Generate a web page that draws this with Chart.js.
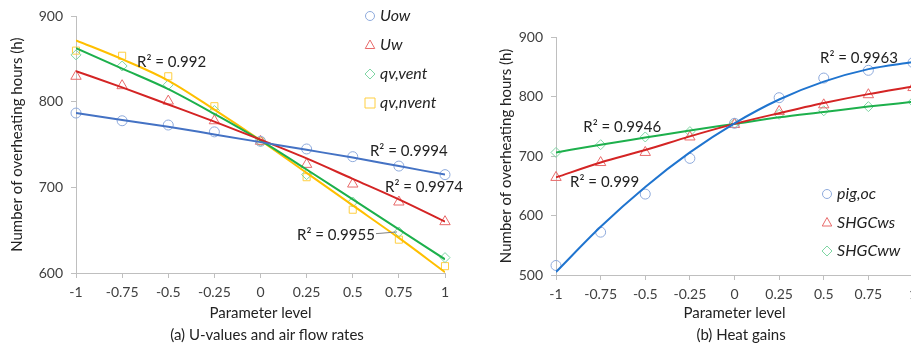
<!DOCTYPE html>
<html lang="en">
<head>
  <meta charset="UTF-8" />
  <title>Overheating hours</title>
  <script src="https://cdn.jsdelivr.net/npm/chart.js"></script>
  <style>
    body { margin: 0; width: 911px; height: 344px; overflow: hidden; background: #fff; position: relative; font-family: Lato, sans-serif; }
    .box { position: absolute; top: 0; }
    .caption { position: absolute; top: 325px; line-height: 18px; font: 15px Lato, sans-serif; color: #222; white-space: nowrap; transform: translateX(-50%); }
  </style>
</head>
<body>
  <div class="box" style="left:0;width:480px;height:344px"><canvas id="chartA" width="480" height="344"></canvas></div>
  <div class="box" style="left:490px;width:440px;height:344px"><canvas id="chartB" width="440" height="344"></canvas></div>
  <div class="caption" style="left:267px">(a) U-values and air flow rates</div>
  <div class="caption" style="left:741px">(b) Heat gains</div>

  <script>
    // niveles de parametro (eje x)
    const niveles = [-1, -0.75, -0.5, -0.25, 0, 0.25, 0.5, 0.75, 1];

    // (a) valores U y caudales de aire
    const uow = [787, 778, 773, 765, 754, 745, 736, 725, 715];
    const uw = [830, 819, 801, 778, 754, 727, 704, 683, 660];
    const qvVent = [855, 842, 820, 790, 754, 715, 683, 648, 618];
    const qvNvent = [860, 854, 830, 795, 754, 712, 674, 639, 608];
    // lineas de tendencia
    const uowTend = [787, 779, 771, 762, 753, 744, 735, 725, 715];
    const uwTend = [836, 817, 797, 777, 756, 734, 710, 686, 660];
    const qvVentTend = [863, 839, 815, 786, 755, 721, 686, 651, 616];
    const qvNventTend = [872, 850, 825, 791, 755, 717, 679, 641, 601];

    // (b) ganancias de calor
    const pigOc = [516, 572, 636, 696, 755, 798, 831, 844, 857];
    const shgcWs = [664, 689, 706, 732, 753, 775, 786, 803, 815];
    const shgcWw = [706, 719, 732, 741, 755, 770, 776, 783, 791];
    const pigOcTend = [505, 581, 648, 706, 755, 795, 825, 846, 858];
    const shgcWsTend = [664, 689, 710, 733, 754, 772, 789, 804, 817];
    const shgcWwTend = [706, 719, 731, 743, 754, 765, 774, 783, 791];

    const ticksA = [600, 700, 800, 900];
    const ticksB = [500, 600, 700, 800, 900];

    // etiquetas R² (x, y en unidades de datos)
    const r2A = [
      { text: 'R² = 0.992', x: -0.669, y: 847 },
      { text: 'R² = 0.9994', x: 0.593, y: 743 },
      { text: 'R² = 0.9974', x: 0.675, y: 700 },
      { text: 'R² = 0.9955', x: 0.198, y: 644, leader: [0.626, 646, 0.74, 648] }
    ];
    const r2B = [
      { text: 'R² = 0.9963', x: 0.479, y: 865 },
      { text: 'R² = 0.9946', x: -0.847, y: 749 },
      { text: 'R² = 0.999', x: -0.921, y: 656 }
    ];

    const pts = arr => arr.map((v, i) => ({ x: niveles[i], y: v }));

    function marcadores(label, data, estilo, color) {
      return {
        label, data: pts(data), showLine: false, pointStyle: estilo,
        pointRadius: estilo === 'triangle' ? 6 : 5, pointBorderWidth: 1,
        pointBorderColor: color, pointBackgroundColor: 'rgba(0,0,0,0)',
        borderColor: color, order: 2, clip: false, esMarcador: true
      };
    }
    function tendencia(data, color) {
      return {
        data: pts(data), borderColor: color, borderWidth: 2, pointRadius: 0,
        cubicInterpolationMode: 'monotone', fill: false, order: 1
      };
    }

    function dibujarMarcador(ctx, estilo, x, y, r, color) {
      ctx.save();
      ctx.strokeStyle = color;
      ctx.lineWidth = 1;
      ctx.beginPath();
      if (estilo === 'circle') {
        ctx.arc(x, y, r, 0, Math.PI * 2);
      } else if (estilo === 'triangle') {
        ctx.moveTo(x, y - r);
        ctx.lineTo(x + r * 0.95, y + r * 0.7);
        ctx.lineTo(x - r * 0.95, y + r * 0.7);
        ctx.closePath();
      } else if (estilo === 'rectRot') {
        ctx.moveTo(x, y - r); ctx.lineTo(x + r, y); ctx.lineTo(x, y + r); ctx.lineTo(x - r, y);
        ctx.closePath();
      } else {
        ctx.rect(x - r, y - r, r * 2, r * 2);
      }
      ctx.stroke();
      ctx.restore();
    }

    // leyenda y etiquetas R² propias
    const extras = {
      id: 'extras',
      afterDraw(chart, args, opts) {
        const ctx = chart.ctx;
        const sx = chart.scales.x, sy = chart.scales.y;
        ctx.save();
        ctx.textBaseline = 'middle';
        ctx.textAlign = 'left';
        ctx.fillStyle = '#222';
        ctx.font = '15px Lato, sans-serif';
        opts.r2.forEach(l => {
          ctx.fillText(l.text, sx.getPixelForValue(l.x), sy.getPixelForValue(l.y));
          if (l.leader) {
            ctx.strokeStyle = '#7f7f7f';
            ctx.lineWidth = 1;
            ctx.beginPath();
            ctx.moveTo(sx.getPixelForValue(l.leader[0]), sy.getPixelForValue(l.leader[1]));
            ctx.lineTo(sx.getPixelForValue(l.leader[2]), sy.getPixelForValue(l.leader[3]));
            ctx.stroke();
          }
        });
        ctx.font = 'italic 16px Lato, sans-serif';
        const items = chart.data.datasets.filter(d => d.esMarcador);
        items.forEach((d, i) => {
          const y = opts.legY + i * opts.legGap;
          const r = d.pointStyle === 'circle' ? 4.5 : 5;
          dibujarMarcador(ctx, d.pointStyle, opts.legX, y, r, d.pointBorderColor);
          ctx.fillStyle = '#222';
          ctx.fillText(d.label, opts.legX + 10, y);
        });
        ctx.restore();
      }
    };

    const grisEje = '#bfbfbf';
    const fuenteTick = { family: 'Lato', size: 14 };

    function opciones(yMin, yMax, ticks, yWidth, xHeight, padding, extrasOpts) {
      return {
        responsive: false,
        animation: false,
        devicePixelRatio: 1,
        layout: { padding },
        plugins: { legend: { display: false }, tooltip: { enabled: false }, extras: extrasOpts },
        scales: {
          x: {
            type: 'linear', min: -1, max: 1,
            afterBuildTicks: s => { s.ticks = niveles.map(v => ({ value: v })); },
            afterFit: s => { s.height = xHeight; },
            grid: { drawOnChartArea: false, drawTicks: true, tickLength: 5, color: grisEje },
            border: { color: grisEje },
            ticks: { color: '#404040', font: fuenteTick, padding: 6, maxRotation: 0, autoSkip: false,
                     callback: v => String(v) },
            title: { display: true, text: 'Parameter level', color: '#222', font: { family: 'Lato', size: 15 }, padding: 0 }
          },
          y: {
            min: yMin, max: yMax,
            afterBuildTicks: s => { s.ticks = ticks.map(v => ({ value: v })); },
            afterFit: s => { s.width = yWidth; },
            grid: { drawOnChartArea: false, drawTicks: true, tickLength: 5, color: grisEje },
            border: { color: grisEje },
            ticks: { color: '#404040', font: fuenteTick, padding: 8 },
            title: { display: true, text: 'Number of overheating hours (h)', color: '#222', font: { family: 'Lato', size: 15 }, padding: 0 }
          }
        }
      };
    }

    new Chart(document.getElementById('chartA').getContext('2d'), {
      type: 'line',
      data: {
        datasets: [
          marcadores('Uow', uow, 'circle', '#8eaadc'),
          marcadores('Uw', uw, 'triangle', '#e86a6a'),
          marcadores('qv,vent', qvVent, 'rectRot', '#7fd6a4'),
          marcadores('qv,nvent', qvNvent, 'rect', '#ffcf40'),
          tendencia(uowTend, '#4472c4'),
          tendencia(uwTend, '#d42424'),
          tendencia(qvVentTend, '#1db04c'),
          tendencia(qvNventTend, '#ffbf00')
        ]
      },
      options: opciones(600, 900, ticksA, 68, 49, { top: 16, left: 8, right: 35, bottom: 22 },
        { r2: r2A, legX: 370, legY: 16, legGap: 29 }),
      plugins: [extras]
    });

    new Chart(document.getElementById('chartB').getContext('2d'), {
      type: 'line',
      data: {
        datasets: [
          marcadores('pig,oc', pigOc, 'circle', '#8eaadc'),
          marcadores('SHGCws', shgcWs, 'triangle', '#e86a6a'),
          marcadores('SHGCww', shgcWw, 'rectRot', '#7fd6a4'),
          tendencia(pigOcTend, '#1f74cf'),
          tendencia(shgcWsTend, '#d42424'),
          tendencia(shgcWwTend, '#1db04c')
        ]
      },
      options: opciones(500, 900, ticksB, 59, 47, { top: 37, left: 7, right: 17, bottom: 22 },
        { r2: r2B, legX: 337, legY: 194, legGap: 28.5 }),
      plugins: [extras]
    });
  </script>
</body>
</html>
